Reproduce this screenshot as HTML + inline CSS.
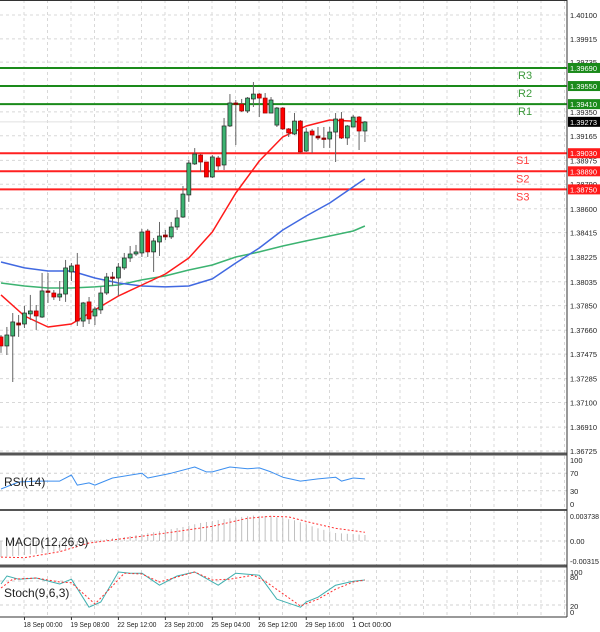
<!DOCTYPE html>
<html><head><meta charset="utf-8"><style>
html,body{margin:0;padding:0;background:#fff;}
svg{display:block;font-family:"Liberation Sans",sans-serif;}
</style></head><body>
<svg id="chart" width="600" height="632" viewBox="0 0 600 632" xmlns="http://www.w3.org/2000/svg">
<g id="grid"></g>
<g id="main"></g>
<g id="subs"></g>
<g id="axes"></g>
</svg>
<script>
// ---- data ----
const openP=[1.37608,1.37538,1.37615,1.37716,1.37708,1.37786,1.37809,1.37762,1.37964,1.37948,1.37917,1.37940,1.38111,1.38165,1.37731,1.37879,1.37770,1.37817,1.37948,1.38072,1.38064,1.38142,1.38219,1.38250,1.38258,1.38428,1.38266,1.38343,1.38397,1.38382,1.38459,1.38536,1.38707,1.38947,1.39016,1.38962,1.38846,1.38993,1.38939,1.39241,1.39419,1.39411,1.39357,1.39450,1.39488,1.39457,1.39341,1.39248,1.39380,1.39218,1.39179,1.39279,1.39047,1.39202,1.39163,1.39148,1.39140,1.39194,1.39295,1.39148,1.39233,1.39310,1.39202];
const highP=[1.37623,1.37685,1.37793,1.37778,1.37848,1.37933,1.37855,1.38103,1.38103,1.37971,1.38041,1.38204,1.38180,1.38258,1.37879,1.37917,1.37840,1.37995,1.38103,1.38111,1.38180,1.38258,1.38312,1.38320,1.38444,1.38444,1.38374,1.38498,1.38436,1.38498,1.38591,1.38776,1.38978,1.39070,1.39024,1.38962,1.39016,1.39009,1.39303,1.39488,1.39442,1.39450,1.39465,1.39581,1.39496,1.39496,1.39465,1.39388,1.39388,1.39225,1.39341,1.39287,1.39225,1.39218,1.39233,1.39233,1.39233,1.39341,1.39349,1.39248,1.39326,1.39318,1.39279];
const lowP=[1.37484,1.37468,1.37259,1.37608,1.37677,1.37739,1.37662,1.37755,1.37871,1.37894,1.37886,1.37879,1.38041,1.37693,1.37685,1.37708,1.37700,1.37786,1.37933,1.38002,1.37925,1.38126,1.38188,1.38235,1.38227,1.38227,1.38111,1.38235,1.38358,1.38366,1.38436,1.38529,1.38653,1.38939,1.38885,1.38846,1.38838,1.38900,1.38900,1.39233,1.39094,1.39349,1.39341,1.39388,1.39310,1.39341,1.39341,1.39233,1.39210,1.39156,1.39171,1.39032,1.39040,1.39032,1.39132,1.39070,1.39070,1.38962,1.39140,1.39094,1.39233,1.39055,1.39117];
const closeP=[1.37538,1.37623,1.37724,1.37700,1.37793,1.37809,1.37770,1.37964,1.37956,1.37917,1.37940,1.38142,1.38157,1.37731,1.37871,1.37747,1.37824,1.37948,1.38072,1.38064,1.38149,1.38219,1.38250,1.38266,1.38420,1.38266,1.38351,1.38389,1.38382,1.38459,1.38529,1.38714,1.38954,1.39024,1.38962,1.38846,1.39001,1.38931,1.39241,1.39419,1.39411,1.39357,1.39457,1.39488,1.39457,1.39341,1.39442,1.39380,1.39218,1.39187,1.39279,1.39040,1.39194,1.39171,1.39148,1.39140,1.39194,1.39295,1.39148,1.39241,1.39310,1.39202,1.39272];
const maIdx=[0,4,8,12,16,20,24,28,32,36,40,44,48,52,56,60,62];
const maRed=[1.37933,1.37770,1.37685,1.37708,1.37817,1.37925,1.38010,1.38095,1.38219,1.38420,1.38722,1.38970,1.39156,1.39241,1.39287,1.39279,1.39264];
const maBlue=[1.38188,1.38142,1.38118,1.38118,1.38064,1.38025,1.38002,1.37995,1.38002,1.38057,1.38180,1.38296,1.38436,1.38544,1.38645,1.38769,1.38831];
const maGreen=[1.38025,1.38002,1.37987,1.37987,1.37995,1.38010,1.38049,1.38080,1.38126,1.38165,1.38227,1.38266,1.38312,1.38351,1.38389,1.38428,1.38467];
const levelNames=["R3","R2","R1","S1","S2","S3"];
const levelValues=[1.39690,1.39550,1.39410,1.39030,1.38890,1.38750];
const currentPrice=1.39273;
const priceTicks=[1.40100,1.39915,1.39735,1.39350,1.39165,1.38975,1.38790,1.38600,1.38415,1.38225,1.38035,1.37850,1.37660,1.37475,1.37285,1.37100,1.36910,1.36725];
const rsiIdx=[0,3,6,10,12,13,15,16,19,24,25,29,33,35,36,39,42,44,46,48,51,54,57,58,60,62];
const rsiVal=[34,50,52,52,66,43,48,43,59,70,59,70,84,73,73,84,80,82,73,61,52,57,61,52,59,57];
const macdHistIdx=[0,3,10,15,21,26,31,34,39,43,46,50,54,57,62];
const macdHistVal=[-0.0024,-0.0022,-0.0015,0,0.0006,0.0013,0.0021,0.0027,0.0034,0.0038,0.0037,0.0031,0.0019,0.0012,0.0009];
const macdSigIdx=[0,4,10,15,23,29,36,42,46,49,53,57,62];
const macdSigVal=[-0.0024,-0.0025,-0.0016,-0.0003,0.0006,0.0013,0.0022,0.0034,0.0037,0.0036,0.0027,0.0019,0.0013];
const stochMainIdx=[0,1,3,6,10,12,15,17,20,22,24,27,30,33,37,40,44,47,51,52,54,57,60,62];
const stochMainVal=[70,90,82,85,70,82,12,25,100,97,97,67,90,100,67,97,92,32,12,25,37,67,77,80];
const stochSigIdx=[0,2,6,10,12,16,19,21,24,27,33,36,39,43,45,51,54,57,60,62];
const stochSigVal=[60,82,85,75,73,20,65,97,95,75,100,80,82,92,77,15,32,57,75,80];
const timeLabels=["16:00","18 Sep 00:00","19 Sep 08:00","22 Sep 12:00","23 Sep 20:00","25 Sep 04:00","26 Sep 12:00","29 Sep 16:00","1 Oct 00:00"];
const timeLabelIdx=[-4,4,12,20,28,36,44,52,60];

// ---- scales ----
const NS="http://www.w3.org/2000/svg";
const PW=567;
const xOf=i=>1+5.87*i;
const yP=p=>15+(1.401-p)*12918;
const yRsi=v=>504-0.44*v;
const yMacd=v=>541-v*6688;
const ySto=v=>612-0.4*v;
function mk(tag,attrs,parent){const e=document.createElementNS(NS,tag);for(const k in attrs)e.setAttribute(k,attrs[k]);parent.appendChild(e);return e;}

const grid=document.getElementById('grid'),main=document.getElementById('main'),subs=document.getElementById('subs'),axes=document.getElementById('axes');

// grid
for(let x=24;x<PW;x+=23.5){const l=mk('line',{x1:x,x2:x,y1:0,y2:617,stroke:'#d8d8d8','stroke-dasharray':'3,3','stroke-width':1},grid);
}
priceTicks.forEach(p=>{const l=mk('line',{x1:0,x2:PW,y1:yP(p),y2:yP(p),stroke:'#d8d8d8','stroke-dasharray':'3,3'},grid);
});
[70,30].forEach(v=>{const l=mk('line',{x1:0,x2:PW,y1:yRsi(v),y2:yRsi(v),stroke:'#d0d0d0','stroke-dasharray':'3,3'},grid);});
{const l=mk('line',{x1:0,x2:PW,y1:yMacd(0),y2:yMacd(0),stroke:'#d0d0d0','stroke-dasharray':'3,3'},grid);}
[80,20].forEach(v=>{const l=mk('line',{x1:0,x2:PW,y1:ySto(v)+1,y2:ySto(v)+1,stroke:'#d0d0d0','stroke-dasharray':'3,3'},grid);});

// current price line
{const l=mk('line',{x1:0,x2:PW,y1:yP(currentPrice),y2:yP(currentPrice),stroke:'#e0e0e0','stroke-width':1},main);}

// levels
levelValues.forEach((v,k)=>{const isR=levelNames[k][0]==='R';const col=isR?'#1a8a1a':'#ff2020';
const l=mk('line',{x1:0,x2:PW,y1:yP(v),y2:yP(v),stroke:col,'stroke-width':2},main);

const t=mk('text',{x:isR?518:516,y:yP(v)+11,'font-size':11,fill:isR?'#3c9a3c':'#ff4040'},main);t.textContent=levelNames[k];
});

// MAs
function poly(idx,vals,yf,col,w,dash,name,parent){const pts=idx.map((d,k)=>xOf(d).toFixed(1)+','+yf(vals[k]).toFixed(1)).join(' ');
const a={points:pts,fill:'none',stroke:col,'stroke-width':w,'stroke-linejoin':'round'};if(dash)a['stroke-dasharray']=dash;
const p=mk('polyline',a,parent);return p;}
poly(maIdx,maGreen,yP,'#3cb371',1.5,null,'ma-green-line',main);
poly(maIdx,maBlue,yP,'#4169e1',1.5,null,'ma-blue-line',main);
poly(maIdx,maRed,yP,'#ff1a1a',1.5,null,'ma-red-line',main);

// candles
openP.forEach((o,i)=>{const c=closeP[i],x=xOf(i);const up=c>=o;
const w=mk('line',{x1:x,x2:x,y1:yP(highP[i]),y2:yP(lowP[i]),stroke:'#666','stroke-width':1},main);

const top=yP(Math.max(o,c)),bot=yP(Math.min(o,c));
const r=mk('rect',{x:x-2,y:top,width:4,height:Math.max(1.5,bot-top),fill:up?'#3cb371':(bot-top<3?'#8b0000':'#ff0000'),stroke:up?'#222':'#9a0000','stroke-width':0.7},main);
});

// RSI
poly(rsiIdx,rsiVal,yRsi,'#3d8fef',1,null,'rsi-line',subs);
// MACD histogram
for(let i=0;i<=62;i++){let k=0;while(k<macdHistIdx.length-1&&macdHistIdx[k+1]<i)k++;
const k1=Math.min(k+1,macdHistIdx.length-1);const i0=macdHistIdx[k],i1=macdHistIdx[k1];const t=i1===i0?0:(i-i0)/(i1-i0);
const v=macdHistVal[k]+(macdHistVal[k1]-macdHistVal[k])*Math.min(1,Math.max(0,t));
const b=mk('line',{x1:xOf(i),x2:xOf(i),y1:yMacd(0),y2:yMacd(v),stroke:'#c0c0c0','stroke-width':1},subs);
}
poly(macdSigIdx,macdSigVal,yMacd,'#ff3030',1,'2,2','macd-signal-line',subs);
// Stoch
poly(stochMainIdx,stochMainVal,ySto,'#40b0b0',1,null,'stoch-main-line',subs);
poly(stochSigIdx,stochSigVal,ySto,'#ff3030',1,'2,2','stoch-signal-line',subs);

// panel borders / separators
[[0,454,PW,454,3],[0,510,PW,510,2],[0,566,PW,566,3],[0,617,PW,617,1],[PW,0,PW,617,1]].forEach(s=>{
const l=mk('line',{x1:s[0],y1:s[1],x2:s[2],y2:s[3],stroke:s[4]>1?'#555':'#333','stroke-width':s[4]},axes);
});
{const l=mk('line',{x1:0,y1:0.5,x2:PW,y2:0.5,stroke:'#333'},axes);}

// price axis
priceTicks.forEach(p=>{const t=mk('text',{x:570,y:yP(p)+3,'font-size':7.5,fill:'#222',textLength:27,lengthAdjust:'spacingAndGlyphs'},axes);t.textContent=p.toFixed(5);
});
levelValues.forEach((v,k)=>{const isR=levelNames[k][0]==='R';
const r=mk('rect',{x:568,y:yP(v)-5,width:32,height:10,fill:isR?'#1a8a1a':'#ff1a1a'},axes);
const t=mk('text',{x:570,y:yP(v)+3,'font-size':7.5,fill:'#fff',textLength:27,lengthAdjust:'spacingAndGlyphs'},axes);t.textContent=v.toFixed(5);});
{const r=mk('rect',{x:568,y:yP(currentPrice)-5,width:32,height:10,fill:'#000'},axes);
const t=mk('text',{x:570,y:yP(currentPrice)+3,'font-size':7.5,fill:'#fff',textLength:27,lengthAdjust:'spacingAndGlyphs'},axes);t.textContent=currentPrice.toFixed(5);}

// sub-axis labels
const subLabels=[["100",yRsi(100)],["70",yRsi(70)],["30",yRsi(30)],["0",yRsi(0)],["0.003738",516],["0.00",yMacd(0)],["-0.00315",561],["100",572],["80",577],["20",606],["0",612]];
subLabels.forEach(s=>{const a={x:570,y:s[1]+3,'font-size':7.5,fill:'#222'};if(s[0].length>5){a.textLength=29;a.lengthAdjust='spacingAndGlyphs';}
const t=mk('text',a,axes);t.textContent=s[0];});
[["RSI(14)",4,486],["MACD(12,26,9)",5,546],["Stoch(9,6,3)",4,597]].forEach(s=>{const t=mk('text',{x:s[1],y:s[2],'font-size':12,fill:'#222'},axes);t.textContent=s[0];});

// time axis
timeLabels.forEach((s,k)=>{const x=xOf(timeLabelIdx[k]);
const tk=mk('line',{x1:x,x2:x,y1:617,y2:620,stroke:'#333'},axes);
const a={x:x-1,y:627,'font-size':7.5,fill:'#222'};if(s.length>6){a.textLength=39;a.lengthAdjust='spacingAndGlyphs';}
const t=mk('text',a,axes);t.textContent=s;});
</script>
</body></html>
